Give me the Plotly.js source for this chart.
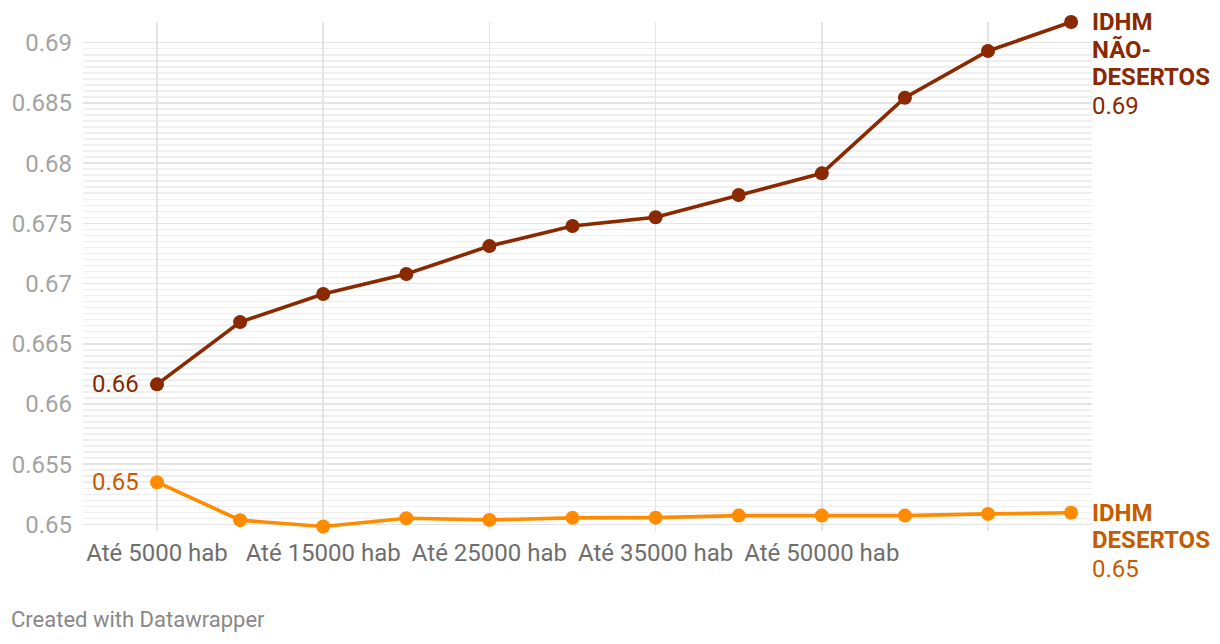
<!DOCTYPE html>
<html><head><meta charset="utf-8">
<script src="https://cdn.plot.ly/plotly-3.0.1.min.js"></script>
<style>html,body{margin:0;padding:0;background:#fff}#chart{width:1220px;height:644px}</style>
</head><body><div id="chart"></div>
<script>
// x positions (population-size groups, in order)
const groupIndex = [0, 1, 2, 3, 4, 5, 6, 7, 8, 9, 10, 11];
const tickPositions = [0, 2, 4, 6, 8, 10];
const tickLabels = ['Até 5000 hab', 'Até 15000 hab', 'Até 25000 hab', 'Até 35000 hab', 'Até 50000 hab', ''];

const idhmNaoDesertos = [0.66163, 0.66680, 0.66913, 0.67079, 0.67311, 0.67478, 0.67550, 0.67735, 0.67915, 0.68543, 0.68931, 0.69172];
const idhmDesertos    = [0.65350, 0.65035, 0.64982, 0.65051, 0.65037, 0.65054, 0.65056, 0.65073, 0.65073, 0.65073, 0.65087, 0.65096];

const nameNaoDesertos = ['IDHM', 'NÃO-', 'DESERTOS'];
const nameDesertos = ['IDHM', 'DESERTOS'];

const yTicks = [0.65, 0.655, 0.66, 0.665, 0.67, 0.675, 0.68, 0.685, 0.69];
const footer = 'Created with Datawrapper';

const cDark = '#8a2800', cDarkText = '#8a2800';
const cOrange = '#ff8c00', cOrangeText = '#c65c00';
const FONT = 'Roboto, "Open Sans", sans-serif';

const minorVals = [];
for (let i = 0; i <= 80; i++) minorVals.push(+(0.65 + i * 0.0005).toFixed(4));

const M = {l: 83, r: 128, t: 22, b: 113};
const W = 1220, H = 644;
const pw = W - M.l - M.r, ph = H - M.t - M.b;

function lineTrace(y, color) {
  return {x: groupIndex, y: y, type: 'scatter', mode: 'lines+markers',
    line: {color: color, width: 3.6}, marker: {color: color, size: 14},
    hoverinfo: 'skip', cliponaxis: false};
}

const ann = [];
const last = groupIndex.length - 1;
const LS = 27.6;
function endLabel(names, vals, color) {
  names.forEach((n, i) => ann.push({x: groupIndex[last], y: vals[last], xref: 'x', yref: 'y',
    text: '<b>' + n + '</b>', showarrow: false, xanchor: 'left', yanchor: 'middle',
    xshift: 19, yshift: -i * LS, font: {family: FONT, size: 24, color: color}}));
  ann.push({x: groupIndex[last], y: vals[last], xref: 'x', yref: 'y',
    text: vals[last].toFixed(2), showarrow: false, xanchor: 'left', yanchor: 'middle',
    xshift: 19, yshift: -names.length * LS - 1, font: {family: FONT, size: 24, color: color}});
}
function startLabel(vals, color) {
  ann.push({x: groupIndex[0], y: vals[0], xref: 'x', yref: 'y', text: vals[0].toFixed(2),
    showarrow: false, xanchor: 'right', yanchor: 'middle', xshift: -16,
    font: {family: FONT, size: 24, color: color}});
}
endLabel(nameNaoDesertos, idhmNaoDesertos, cDarkText);
endLabel(nameDesertos, idhmDesertos, cOrangeText);
startLabel(idhmNaoDesertos, cDarkText);
startLabel(idhmDesertos, cOrangeText);
ann.push({xref: 'paper', yref: 'paper', x: (9 - M.l) / pw, y: -(619 - (M.t + ph)) / ph,
  xanchor: 'left', yanchor: 'middle', showarrow: false, text: footer,
  font: {family: FONT, size: 22, color: '#888888'}});

const layout = {
  width: W, height: H, margin: M, showlegend: false,
  paper_bgcolor: '#fff', plot_bgcolor: '#fff',
  xaxis: {range: [-0.8905, 11.2515], tickmode: 'array', tickvals: tickPositions, ticktext: tickLabels,
    showgrid: true, gridcolor: '#e4e4e4', gridwidth: 1.5, zeroline: false, showline: false, ticks: '',
    ticklabelstandoff: 5, tickfont: {family: FONT, size: 24, color: '#6e6e6e'}, fixedrange: true},
  yaxis: {range: [0.64945, 0.69172], tickmode: 'array', tickvals: yTicks,
    ticktext: yTicks.map(v => String(+v.toFixed(3))),
    showgrid: true, gridcolor: '#e4e4e4', gridwidth: 1.5, zeroline: false, showline: false, ticks: '',
    ticklabelstandoff: 10, tickfont: {family: FONT, size: 24, color: '#a3a3a3'},
    minor: {tickmode: 'array', tickvals: minorVals, showgrid: true, gridcolor: '#efefef', gridwidth: 1.5, ticks: ''},
    fixedrange: true},
  annotations: ann
};

Plotly.newPlot('chart', [lineTrace(idhmDesertos, cOrange), lineTrace(idhmNaoDesertos, cDark)], layout, {staticPlot: true, displayModeBar: false});
</script></body></html>
